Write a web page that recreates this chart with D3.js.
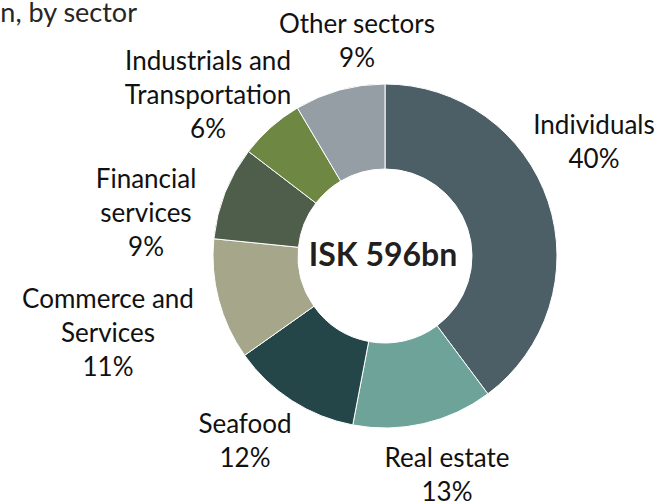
<!DOCTYPE html>
<html>
<head>
<meta charset="utf-8">
<script src="https://cdn.jsdelivr.net/npm/d3@7"></script>
<style>
  html, body { margin: 0; padding: 0; background: #fff; }
  svg { display: block; font-family: Lato, "Open Sans", sans-serif; }
</style>
</head>
<body>
<svg id="chart" width="659" height="502"></svg>
<script>
// sector shares of the loan book, clockwise from 12 o'clock
const sectors = ["Individuals", "Real estate", "Seafood", "Commerce and Services",
  "Financial services", "Industrials and Transportation", "Other sectors"];
const shares = [39.8, 13.2, 12.2, 11.4, 8.8, 6.1, 8.5];
const shareLabels = ["40%", "13%", "12%", "11%", "9%", "6%", "9%"];
const labelLines = [
  ["Individuals"],
  ["Real estate"],
  ["Seafood"],
  ["Commerce and", "Services"],
  ["Financial", "services"],
  ["Industrials and", "Transportation"],
  ["Other sectors"]
];
const totalLabel = "ISK 596bn";

const colors = ["#4c5f66", "#6ea39a", "#254649", "#a5a68a", "#4f5e4a", "#6e8844", "#959ea4"];

// label placement (centre x, first baseline) relative to the pie centre
const labelSpots = [
  [209, -122], [62, 211], [-140, 177], [-277, 52], [-239, -68], [-177, -186], [-28, -223]
];

const svg = d3.select("#chart");
const cx = 385, cy = 256;
const outerR = 172, innerR = 87;
const lineGap = 34;

svg.append("text")
  .attr("x", 137)
  .attr("y", 22)
  .attr("text-anchor", "end")
  .attr("font-size", 27)
  .attr("fill", "#262626")
  .text("n, by sector");

const pie = d3.pie().sort(null).value(d => d);
const arc = d3.arc().innerRadius(innerR).outerRadius(outerR);

const g = svg.append("g").attr("transform", `translate(${cx},${cy})`);

g.selectAll("path.slice")
  .data(pie(shares))
  .join("path")
  .attr("class", "slice")
  .attr("d", arc)
  .attr("fill", (d, i) => colors[i])
  .attr("stroke", "#fff")
  .attr("stroke-width", 1);

g.append("text")
  .attr("x", -2)
  .attr("y", 10)
  .attr("text-anchor", "middle")
  .attr("font-size", 32)
  .attr("font-weight", "bold")
  .attr("fill", "#231f20")
  .text(totalLabel);

const labels = g.selectAll("text.label")
  .data(sectors)
  .join("text")
  .attr("class", "label")
  .attr("text-anchor", "middle")
  .attr("font-size", 26)
  .attr("fill", "#111");

labels.each(function(name, i) {
  const [lx, ly] = labelSpots[i];
  const lines = labelLines[i].concat(shareLabels[i]);
  d3.select(this).selectAll("tspan")
    .data(lines)
    .join("tspan")
    .attr("x", lx)
    .attr("y", (t, j) => ly + j * lineGap)
    .text(t => t);
});
</script>
</body>
</html>
